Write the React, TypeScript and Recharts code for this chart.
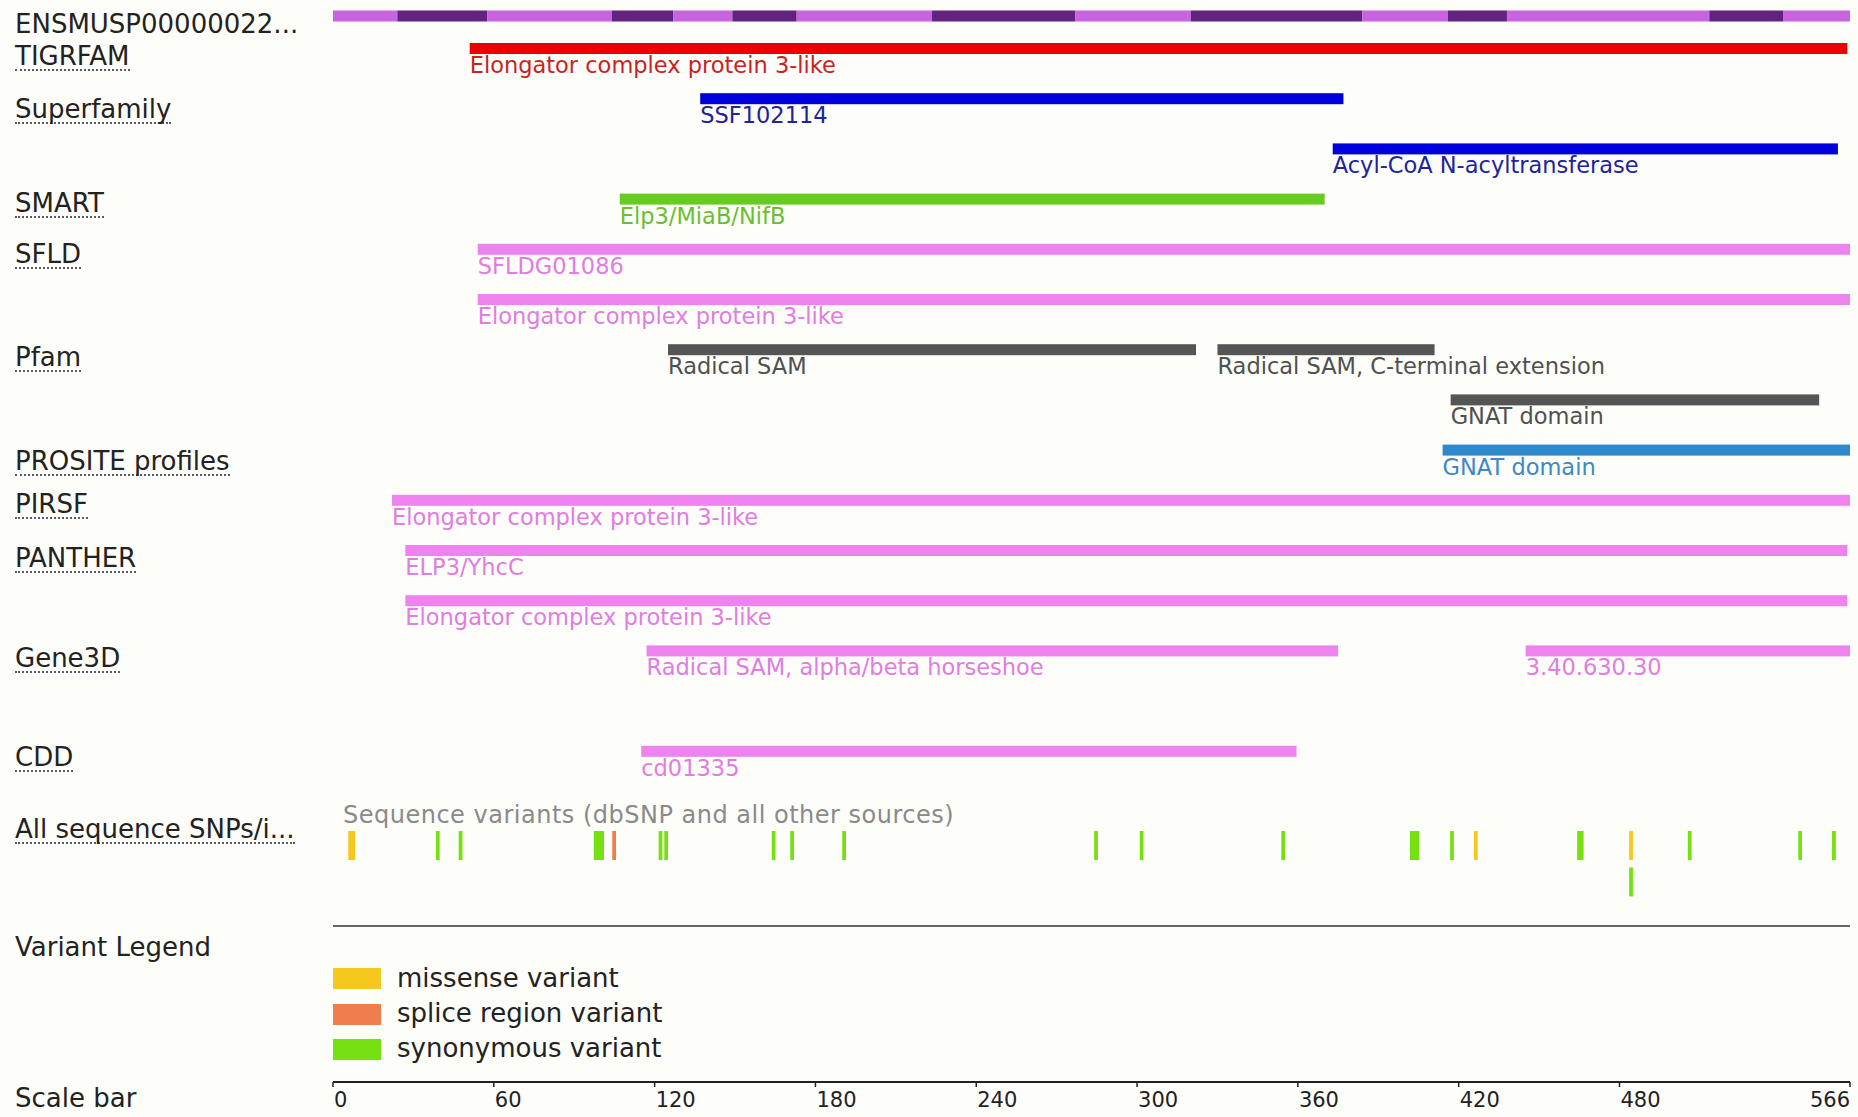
import React from 'react';
import { ComposedChart, Bar, XAxis, YAxis } from 'recharts';

// ---------- data ----------
const proteinLength = 566;
const exonBoundaries = [0, 24, 57.5, 104, 127, 149, 173, 223.5, 277, 320, 384, 416, 438, 513.5, 541, 566];

const domains = [
  { source: 'TIGRFAM', row: 1, name: 'Elongator complex protein 3-like', start: 51, end: 565 },
  { source: 'Superfamily', row: 1, name: 'SSF102114', start: 137, end: 377 },
  { source: 'Superfamily', row: 2, name: 'Acyl-CoA N-acyltransferase', start: 373, end: 561.5 },
  { source: 'SMART', row: 1, name: 'Elp3/MiaB/NifB', start: 107, end: 370 },
  { source: 'SFLD', row: 1, name: 'SFLDG01086', start: 54, end: 566 },
  { source: 'SFLD', row: 2, name: 'Elongator complex protein 3-like', start: 54, end: 566 },
  { source: 'Pfam', row: 1, name: 'Radical SAM', start: 125, end: 322 },
  { source: 'Pfam', row: 1, name: 'Radical SAM, C-terminal extension', start: 330, end: 411 },
  { source: 'Pfam', row: 2, name: 'GNAT domain', start: 417, end: 554.5 },
  { source: 'PROSITE profiles', row: 1, name: 'GNAT domain', start: 414, end: 566 },
  { source: 'PIRSF', row: 1, name: 'Elongator complex protein 3-like', start: 22, end: 566 },
  { source: 'PANTHER', row: 1, name: 'ELP3/YhcC', start: 27, end: 565 },
  { source: 'PANTHER', row: 2, name: 'Elongator complex protein 3-like', start: 27, end: 565 },
  { source: 'Gene3D', row: 1, name: 'Radical SAM, alpha/beta horseshoe', start: 117, end: 375 },
  { source: 'Gene3D', row: 1, name: '3.40.630.30', start: 445, end: 566 },
  { source: 'CDD', row: 1, name: 'cd01335', start: 115, end: 359.5 },
];

const domainLanes = [
  'TIGRFAM 1', 'Superfamily 1', 'Superfamily 2', 'SMART 1', 'SFLD 1', 'SFLD 2', 'Pfam 1', 'Pfam 2',
  'PROSITE profiles 1', 'PIRSF 1', 'PANTHER 1', 'PANTHER 2', 'Gene3D 1', 'Gene3D 2', 'CDD 1',
];

const trackLabels = [
  'ENSMUSP00000022...', 'TIGRFAM', 'Superfamily', 'SMART', 'SFLD', 'Pfam', 'PROSITE profiles',
  'PIRSF', 'PANTHER', 'Gene3D', 'CDD', 'All sequence SNPs/i...', 'Variant Legend', 'Scale bar',
];

const variantTypes = ['missense variant', 'splice region variant', 'synonymous variant'];

const variants = [
  { start: 5.7, end: 8.3, type: 'missense variant', row: 1 },
  { start: 38.4, end: 39.8, type: 'synonymous variant', row: 1 },
  { start: 46.9, end: 48.3, type: 'synonymous variant', row: 1 },
  { start: 97.3, end: 101.1, type: 'synonymous variant', row: 1 },
  { start: 104.2, end: 105.6, type: 'splice region variant', row: 1 },
  { start: 121.5, end: 122.9, type: 'synonymous variant', row: 1 },
  { start: 123.6, end: 125.0, type: 'synonymous variant', row: 1 },
  { start: 163.7, end: 165.1, type: 'synonymous variant', row: 1 },
  { start: 170.6, end: 172.0, type: 'synonymous variant', row: 1 },
  { start: 190.0, end: 191.4, type: 'synonymous variant', row: 1 },
  { start: 284.0, end: 285.4, type: 'synonymous variant', row: 1 },
  { start: 301.0, end: 302.4, type: 'synonymous variant', row: 1 },
  { start: 353.8, end: 355.2, type: 'synonymous variant', row: 1 },
  { start: 401.8, end: 405.3, type: 'synonymous variant', row: 1 },
  { start: 416.8, end: 418.2, type: 'synonymous variant', row: 1 },
  { start: 425.7, end: 427.1, type: 'missense variant', row: 1 },
  { start: 464.2, end: 466.6, type: 'synonymous variant', row: 1 },
  { start: 483.6, end: 485.0, type: 'missense variant', row: 1 },
  { start: 505.5, end: 506.9, type: 'synonymous variant', row: 1 },
  { start: 546.7, end: 548.1, type: 'synonymous variant', row: 1 },
  { start: 559.3, end: 560.7, type: 'synonymous variant', row: 1 },
  { start: 483.6, end: 485.0, type: 'synonymous variant', row: 2 },
];

const scaleTicks = [0, 60, 120, 180, 240, 300, 360, 420, 480, 566];

// ---------- styles ----------
const FONT = '"DejaVu Sans", Verdana, sans-serif';
const BG = '#fdfdf9';
const W = 1858;
const H = 1117;
const LEFT = 333;
const RIGHT = 8;

const sourceColors: Record<string, { bar: string; text: string }> = {
  TIGRFAM: { bar: '#ee0000', text: '#cc1f1f' },
  Superfamily: { bar: '#0000dd', text: '#22229a' },
  SMART: { bar: '#66cc22', text: '#6abf30' },
  SFLD: { bar: '#ee82ee', text: '#e27be2' },
  Pfam: { bar: '#555555', text: '#505050' },
  'PROSITE profiles': { bar: '#2e88cc', text: '#3d88c6' },
  PIRSF: { bar: '#ee82ee', text: '#e27be2' },
  PANTHER: { bar: '#ee82ee', text: '#e27be2' },
  Gene3D: { bar: '#ee82ee', text: '#e27be2' },
  CDD: { bar: '#ee82ee', text: '#e27be2' },
};
const variantColors: Record<string, string> = {
  'missense variant': '#f4c81c',
  'splice region variant': '#ef7d4e',
  'synonymous variant': '#76e010',
};
const exonColors = ['#c864e0', '#642280'];

const labelBaselines = [33, 65, 118, 212, 263, 366, 470, 513, 567, 667, 766, 838, 956, 1107];
const noUnderline = new Set(['ENSMUSP00000022...', 'Variant Legend', 'Scale bar']);
const legendBaselines = [987, 1022, 1057];
const legendSwatchCenters = [978.5, 1014, 1049];

// ---------- derived tables (one row per lane, one key per segment) ----------
type Item = { lane: string; start: number; end: number; [k: string]: any };

function buildLaneRows(lanes: string[], items: Item[]) {
  let maxK = 0;
  const rows = lanes.map((lane) => {
    const row: any = { lane };
    items.filter((it) => it.lane === lane).forEach((it, k) => {
      row[`s${k}`] = [it.start, it.end];
      row[`m${k}`] = it;
      maxK = Math.max(maxK, k + 1);
    });
    return row;
  });
  return { rows, maxK };
}

const proteinTable = buildLaneRows(
  ['protein'],
  exonBoundaries.slice(0, -1).map((b, i) => ({ lane: 'protein', start: b, end: exonBoundaries[i + 1], color: exonColors[i % 2] })),
);

const domainTable = buildLaneRows(
  domainLanes,
  domains.map((d) => ({ ...d, lane: `${d.source} ${d.row}` })),
);

const variantLanes = ['v1', 'v2', 'e1', 'e2', 'e3', 'e4', 'e5'];
const variantTable = buildLaneRows(
  variantLanes,
  variants.map((v) => ({ ...v, lane: `v${v.row}` })),
);

// ---------- shapes ----------
const drawProtein = (p: any, m: any) => {
  if (!m || !(p.width > 0)) return <g />;
  return <rect x={p.x} y={p.y} width={p.width} height={p.height} fill={m.color} />;
};

const drawDomain = (p: any, m: any) => {
  if (!m || !(p.width > 0)) return <g />;
  const c = sourceColors[m.source];
  return (
    <g>
      <rect x={p.x} y={p.y} width={p.width} height={p.height} fill={c.bar} />
      <text x={p.x} y={p.y + p.height / 2 + 24.5} fill={c.text} fontSize={22.5} fontFamily={FONT}>
        {m.name}
      </text>
    </g>
  );
};

const drawVariant = (p: any, m: any) => {
  if (!m || !(p.width > 0)) return <g />;
  return <rect x={p.x} y={p.y} width={p.width} height={p.height} fill={variantColors[m.type]} />;
};

const ScaleTick = (props: any) => {
  const { x, y, payload } = props;
  const last = payload.value === proteinLength;
  return (
    <text x={last ? x : x + 1} y={y + 20} textAnchor={last ? 'end' : 'start'} fill="#222" fontSize={21} fontFamily={FONT}>
      {payload.value}
    </text>
  );
};

function laneSeries(maxK: number, barSize: number, draw: (p: any, m: any) => any) {
  const out: any[] = [];
  for (let k = 0; k < maxK; k++) {
    out.push(<YAxis key={`ya${k}`} yAxisId={`y${k}`} type="category" dataKey="lane" hide />);
    out.push(
      <Bar
        key={`b${k}`}
        yAxisId={`y${k}`}
        dataKey={`s${k}`}
        barSize={barSize}
        isAnimationActive={false}
        shape={(p: any) => draw(p, p.payload ? p.payload[`m${k}`] : null)}
      />,
    );
  }
  return out;
}

const Txt = ({ x, baseline, size, color, underline, spacing, children }: any) => (
  <span
    style={{
      position: 'absolute',
      left: x,
      top: baseline - 0.846 * size,
      fontSize: size,
      lineHeight: `${size}px`,
      fontFamily: FONT,
      color,
      whiteSpace: 'nowrap',
      letterSpacing: spacing || 0,
      borderBottom: underline ? '2px dotted #5a5a66' : 'none',
    }}
  >
    {children}
  </span>
);

export default function App() {
  return (
    <div style={{ position: 'absolute', left: 0, top: 0, width: W, height: H, background: BG, overflow: 'hidden' }}>
      {/* protein exon bar */}
      <div style={{ position: 'absolute', left: 0, top: 0 }}>
        <ComposedChart width={W} height={26} layout="vertical" data={proteinTable.rows}
          margin={{ top: 5.5, right: RIGHT, bottom: 0.5, left: LEFT }} barCategoryGap={0}>
          <XAxis type="number" domain={[0, proteinLength]} hide allowDataOverflow />
          {laneSeries(proteinTable.maxK, 11, drawProtein)}
        </ComposedChart>
      </div>

      {/* domain tracks */}
      <div style={{ position: 'absolute', left: 0, top: 0 }}>
        <ComposedChart width={W} height={800} layout="vertical" data={domainTable.rows}
          margin={{ top: 23, right: RIGHT, bottom: 24, left: LEFT }} barCategoryGap={0}>
          <XAxis type="number" domain={[0, proteinLength]} hide allowDataOverflow />
          {laneSeries(domainTable.maxK, 11, drawDomain)}
        </ComposedChart>
      </div>

      {/* variants + scale bar */}
      <div style={{ position: 'absolute', left: 0, top: 0 }}>
        <ComposedChart width={W} height={H} layout="vertical" data={variantTable.rows}
          margin={{ top: 827, right: RIGHT, bottom: 0, left: LEFT }} barCategoryGap={0}>
          <XAxis type="number" domain={[0, proteinLength]} allowDataOverflow ticks={scaleTicks}
            interval={0} height={35} tickSize={5} tickMargin={0}
            axisLine={{ stroke: '#222', strokeWidth: 2 }} tickLine={{ stroke: '#222', strokeWidth: 1.5 }}
            tick={<ScaleTick />} />
          {laneSeries(variantTable.maxK, 29, drawVariant)}
        </ComposedChart>
      </div>

      {/* track labels */}
      {trackLabels.map((t, i) => (
        <Txt key={t} x={15} baseline={labelBaselines[i]} size={26} color="#222" underline={!noUnderline.has(t)}>
          {t}
        </Txt>
      ))}

      <Txt x={343} baseline={823} size={24} color="#8a8a8a" spacing={0.5}>
        Sequence variants (dbSNP and all other sources)
      </Txt>

      {/* rule */}
      <div style={{ position: 'absolute', left: LEFT, top: 925, width: W - LEFT - RIGHT, height: 2, background: '#666' }} />

      {/* variant legend */}
      {variantTypes.map((v, i) => (
        <React.Fragment key={v}>
          <div style={{ position: 'absolute', left: LEFT, top: legendSwatchCenters[i] - 10.5, width: 48, height: 21, background: variantColors[v] }} />
          <Txt x={397} baseline={legendBaselines[i]} size={26} color="#222">{v}</Txt>
        </React.Fragment>
      ))}
    </div>
  );
}
